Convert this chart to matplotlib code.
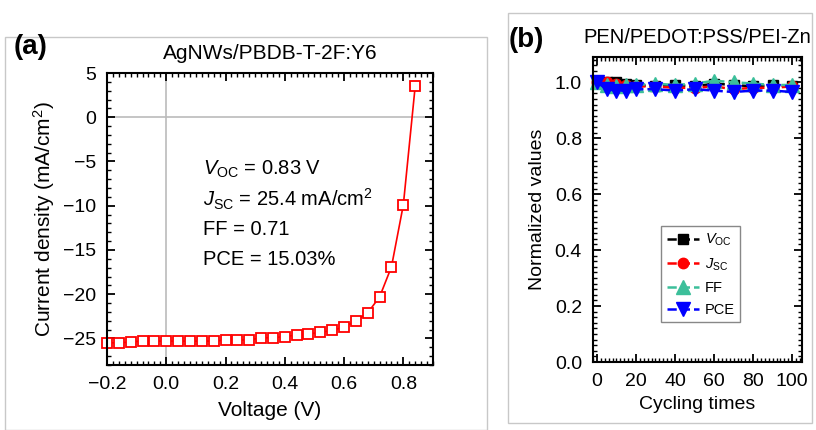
import numpy as np
import matplotlib
matplotlib.use("Agg")
import matplotlib.pyplot as plt
from matplotlib.ticker import MultipleLocator
from matplotlib.patches import Rectangle

plt.rcParams['font.family'] = ['Liberation Sans', 'DejaVu Sans']
plt.rcParams['mathtext.fontset'] = 'custom'
plt.rcParams['mathtext.rm'] = 'Liberation Sans'
plt.rcParams['mathtext.it'] = 'Liberation Sans:italic'

# (a) J-V curve
voltage = [-0.20, -0.16, -0.12, -0.08, -0.04, 0.00, 0.04, 0.08, 0.12, 0.16,
           0.20, 0.24, 0.28, 0.32, 0.36, 0.40, 0.44, 0.48, 0.52, 0.56,
           0.60, 0.64, 0.68, 0.72, 0.76, 0.80, 0.84]
current = [-25.5, -25.5, -25.4, -25.3, -25.3, -25.3, -25.3, -25.3, -25.3, -25.3,
           -25.2, -25.2, -25.15, -24.95, -24.9, -24.8, -24.6, -24.5, -24.3, -24.1,
           -23.7, -23.0, -22.1, -20.3, -16.9, -9.9, 3.5]

# (b) bending stability
cycles = [0, 5, 10, 15, 20, 30, 40, 50, 60, 70, 80, 90, 100]
voc = [1.0, 1.0, 1.0, 0.995, 0.99, 0.985, 0.99, 0.985, 0.995, 0.99, 0.985, 0.99, 0.985]
jsc = [1.0, 1.0, 0.995, 0.99, 0.985, 0.985, 0.98, 0.98, 0.985, 0.975, 0.98, 0.98, 0.985]
ff = [1.0, 0.99, 0.985, 0.99, 0.99, 0.995, 0.99, 0.995, 1.005, 1.0, 0.995, 0.99, 0.99]
pce = [1.0, 0.975, 0.97, 0.97, 0.975, 0.975, 0.97, 0.975, 0.97, 0.965, 0.97, 0.97, 0.965]

fig = plt.figure(figsize=(8.16, 4.30), dpi=100)

# panel frames
fig.patches.append(Rectangle((5/816, 0), 482/816, 1 - 37/430, transform=fig.transFigure,
                             fill=False, edgecolor='#c8c8c8', lw=1.0))
fig.patches.append(Rectangle((508/816, 1 - 423/430), 304/816, 410/430, transform=fig.transFigure,
                             fill=False, edgecolor='#c8c8c8', lw=1.0))


def style_axes(ax):
    for s in ax.spines.values():
        s.set_linewidth(1.5)
    ax.tick_params(which='both', direction='in', top=True, right=True, labelsize=14)
    ax.tick_params(which='major', length=6, width=1.3, pad=8)
    ax.tick_params(which='minor', length=3, width=1.0)


ax1 = fig.add_axes([0.1311, 0.1512, 0.3995, 0.679])
ax1.axhline(0, color='#bbbbbb', lw=1.2, zorder=0)
ax1.axvline(0, color='#bbbbbb', lw=1.2, zorder=0)
ax1.plot(voltage, current, color='red', lw=1.2, marker='s', ms=7.5,
         mfc='white', mec='red', mew=1.3, clip_on=False)
ax1.set_xlim(-0.2, 0.9)
ax1.set_ylim(-28, 5)
ax1.xaxis.set_minor_locator(MultipleLocator(0.02))
ax1.yaxis.set_major_locator(MultipleLocator(5))
ax1.yaxis.set_minor_locator(MultipleLocator(1))
ax1.set_xticks([-0.2, 0.0, 0.2, 0.4, 0.6, 0.8])
ax1.set_xticklabels(['\u22120.2', '0.0', '0.2', '0.4', '0.6', '0.8'])
style_axes(ax1)
ax1.set_xlabel('Voltage (V)', fontsize=15, labelpad=6)
ax1.set_ylabel('Current density (mA/cm$^2$)', fontsize=15, labelpad=4)
ax1.set_title('AgNWs/PBDB-T-2F:Y6', fontsize=15, pad=10)

info = ['$V_{\\rm OC}$ = 0.83 V', '$J_{\\rm SC}$ = 25.4 mA/cm$^2$', 'FF = 0.71', 'PCE = 15.03%']
for i, t in enumerate(info):
    ax1.text(0.125, -5.9 - 3.4 * i, t, fontsize=14.5, va='center', ha='left')

ax2 = fig.add_axes([0.7267, 0.1581, 0.2561, 0.7093])
ax2.plot(cycles, voc, color='black', ls='--', lw=1.8, marker='s', ms=7.5, label='$V_{\\rm OC}$', clip_on=False)
ax2.plot(cycles, jsc, color='red', ls='--', lw=1.8, marker='o', ms=7.5, label='$J_{\\rm SC}$', clip_on=False)
ax2.plot(cycles, ff, color='#3cbf9a', ls='--', lw=1.8, marker='^', ms=10, label='FF', clip_on=False)
ax2.plot(cycles, pce, color='blue', ls='--', lw=1.8, marker='v', ms=10, label='PCE', clip_on=False)
ax2.set_xlim(-2, 105)
ax2.set_ylim(0, 1.09)
ax2.xaxis.set_major_locator(MultipleLocator(20))
ax2.xaxis.set_minor_locator(MultipleLocator(2))
ax2.yaxis.set_major_locator(MultipleLocator(0.2))
ax2.yaxis.set_minor_locator(MultipleLocator(0.02))
style_axes(ax2)
ax2.set_xlabel('Cycling times', fontsize=14, labelpad=4)
ax2.set_ylabel('Normalized values', fontsize=14, labelpad=6)
ax2.set_title('PEN/PEDOT:PSS/PEI-Zn', fontsize=14.5, pad=10)
leg = ax2.legend(loc='upper left', bbox_to_anchor=(0.29, 0.47), fontsize=10.5,
                 fancybox=False, edgecolor='#888888', framealpha=1, handlelength=2.2,
                 borderpad=0.4, labelspacing=0.55, handletextpad=0.4)

fig.text(14/816, 1 - 47/430, '(a)', fontsize=20, fontweight='bold', va='center', ha='left')
fig.text(509/816, 1 - 40/430, '(b)', fontsize=20, fontweight='bold', va='center', ha='left')

fig.savefig('out.png', dpi=100)
